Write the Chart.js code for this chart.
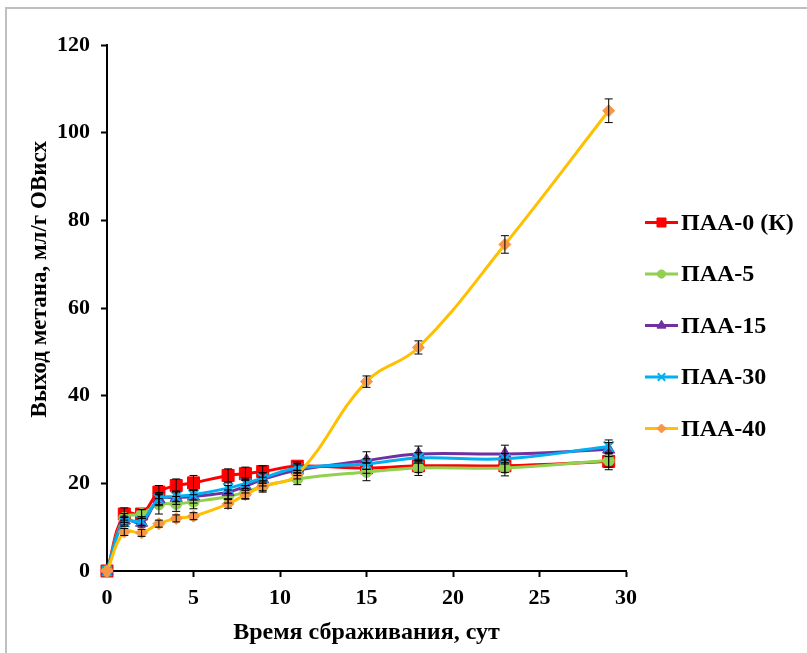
<!DOCTYPE html>
<html>
<head>
<meta charset="utf-8">
<script src="https://cdn.jsdelivr.net/npm/chart.js@4.4.0/dist/chart.umd.min.js"></script>
<style>
  html, body { margin: 0; padding: 0; background: #ffffff; }
  #wrap { width: 807px; height: 653px; position: relative; }
</style>
</head>
<body>
<div id="wrap"><canvas id="c" width="807" height="653"></canvas></div>
<script>
// ---- data ----
const days = [0, 1, 2, 3, 4, 5, 7, 8, 9, 11, 15, 18, 23, 29];
const seriesNames = ['ПАА-0 (К)', 'ПАА-5', 'ПАА-15', 'ПАА-30', 'ПАА-40'];
const paa0  = [0, 13.0, 13.0, 18.0, 19.5, 20.1, 21.8, 22.2, 22.7, 23.9, 23.5, 24.0, 24.0, 25.0];
const paa5  = [0, 12.1, 13.0, 15.2, 15.3, 15.8, 17.0, 18.0, 19.3, 21.0, 22.6, 23.5, 23.5, 25.2];
const paa15 = [0, 11.5, 11.0, 16.4, 16.7, 17.0, 18.0, 19.3, 20.9, 23.0, 25.2, 26.7, 26.7, 27.7];
const paa30 = [0, 11.2, 11.4, 16.4, 17.0, 17.4, 18.9, 20.0, 21.2, 23.5, 24.4, 25.8, 25.6, 28.4];
const paa40 = [0, 8.9, 8.7, 10.8, 12.0, 12.5, 15.3, 17.4, 19.3, 22.0, 43.2, 51.0, 74.5, 105.0];
const err0  = [0, 1.4, 1.0, 1.5, 1.5, 1.7, 1.5, 1.5, 1.3, 1.0, 1.2, 1.5, 1.5, 1.9];
const err5  = [0, 1.0, 1.0, 2.2, 1.7, 1.6, 1.5, 1.5, 1.3, 1.3, 2.0, 1.7, 1.8, 1.5];
const err15 = [0, 1.0, 1.0, 1.5, 1.5, 1.5, 1.5, 1.5, 1.5, 1.2, 2.0, 1.8, 2.0, 1.6];
const err30 = [0, 1.0, 1.0, 1.2, 1.2, 1.2, 1.2, 1.2, 1.2, 1.0, 1.2, 1.2, 1.2, 1.5];
const err40 = [0, 0.8, 0.8, 0.8, 0.8, 0.8, 1.0, 1.0, 1.0, 1.0, 1.3, 1.5, 2.0, 2.7];
const xTicks = [0, 5, 10, 15, 20, 25, 30];
const yTicks = [0, 20, 40, 60, 80, 100, 120];
const xTitle = 'Время сбраживания, сут';
const yTitle = 'Выход метана, мл/г ОВисх';

const values = [paa0, paa5, paa15, paa30, paa40];
const errors = [err0, err5, err15, err30, err40];
const lineColors  = ['#FF0000', '#92D050', '#7030A0', '#00B0F0', '#FFC000'];
const pointColors = ['#FF0000', '#92D050', '#7030A0', '#00B0F0', '#F79646'];
const pointStyles = ['rect', 'circle', 'triangle', 'crossRot', 'rectRot'];
const pointRadii  = [8.5, 5.5, 7, 7, 6];

const SERIF = '"Liberation Serif", "Times New Roman", serif';

const datasets = seriesNames.map((name, i) => ({
  label: name,
  data: days.map((d, k) => ({ x: d, y: values[i][k] })),
  errs: errors[i],
  borderColor: lineColors[i],
  backgroundColor: pointColors[i],
  pointBackgroundColor: pointColors[i],
  pointBorderColor: pointColors[i],
  pointBorderWidth: pointStyles[i] === 'crossRot' ? 2 : 1,
  pointStyle: pointStyles[i],
  pointRadius: pointRadii[i],
  borderWidth: 3,
  tension: 0.4,
  fill: false,
  clip: false,
  order: seriesNames.length - i
}));

const bgPlugin = {
  id: 'bg',
  beforeDraw(chart) {
    const ctx = chart.ctx;
    ctx.save();
    ctx.fillStyle = '#ffffff';
    ctx.fillRect(0, 0, chart.width, chart.height);
    ctx.strokeStyle = '#BFBFBF';
    ctx.lineWidth = 2;
    ctx.strokeRect(6, 8, chart.width + 20, chart.height + 20);
    ctx.restore();
  }
};

const errPlugin = {
  id: 'errbars',
  afterDatasetsDraw(chart) {
    const ctx = chart.ctx;
    const xs = chart.scales.x, ys = chart.scales.y;
    ctx.save();
    ctx.strokeStyle = '#000000';
    ctx.lineWidth = 1;
    chart.data.datasets.forEach((ds) => {
      ds.data.forEach((p, k) => {
        const e = ds.errs[k];
        if (!e) return;
        const px = xs.getPixelForValue(p.x);
        const y1 = ys.getPixelForValue(p.y + e);
        const y2 = ys.getPixelForValue(p.y - e);
        ctx.beginPath();
        ctx.moveTo(px, y1); ctx.lineTo(px, y2);
        ctx.moveTo(px - 4, y1); ctx.lineTo(px + 4, y1);
        ctx.moveTo(px - 4, y2); ctx.lineTo(px + 4, y2);
        ctx.stroke();
      });
    });
    ctx.restore();
  }
};

const legendPlugin = {
  id: 'sideLegend',
  afterDraw(chart) {
    const ctx = chart.ctx;
    ctx.save();
    chart.data.datasets.forEach((ds, i) => {
      const y = 222.5 + i * 51.5;
      ctx.strokeStyle = ds.borderColor;
      ctx.lineWidth = 3;
      ctx.beginPath();
      ctx.moveTo(645, y); ctx.lineTo(678, y);
      ctx.stroke();
      ctx.fillStyle = ds.pointBackgroundColor;
      ctx.strokeStyle = ds.pointBorderColor;
      ctx.lineWidth = ds.pointBorderWidth;
      Chart.helpers.drawPoint(ctx, {
        pointStyle: ds.pointStyle,
        radius: ds.pointRadius * 0.75,
        borderWidth: ds.pointBorderWidth
      }, 661.5, y);
      ctx.fillStyle = '#000000';
      ctx.font = 'bold 24px ' + SERIF;
      ctx.textBaseline = 'middle';
      ctx.textAlign = 'left';
      ctx.fillText(ds.label, 681, y + 1);
    });
    ctx.restore();
  }
};

new Chart(document.getElementById('c'), {
  type: 'line',
  data: { datasets },
  plugins: [bgPlugin, errPlugin, legendPlugin],
  options: {
    responsive: false,
    animation: false,
    events: [],
    layout: { padding: { top: 45, right: 181, left: 0, bottom: 0 } },
    plugins: { legend: { display: false }, tooltip: { enabled: false } },
    scales: {
      x: {
        type: 'linear',
        min: 0, max: 30,
        afterFit(s) { s.height = 82; },
        afterBuildTicks(s) { s.ticks = xTicks.map(v => ({ value: v })); },
        border: { display: true, color: '#000000', width: 2 },
        grid: { display: true, drawOnChartArea: false, drawTicks: true, tickLength: 6, tickColor: '#000000', tickWidth: 2, color: '#000000' },
        ticks: { color: '#000000', padding: 8, maxRotation: 0, font: { family: SERIF, size: 22, weight: 'bold' } },
        title: { display: true, text: xTitle, color: '#000000', padding: { top: 0, bottom: 5.5 }, font: { family: SERIF, size: 24, weight: 'bold' } }
      },
      y: {
        type: 'linear',
        min: 0, max: 120,
        afterFit(s) { s.width = 107; },
        afterBuildTicks(s) { s.ticks = yTicks.map(v => ({ value: v })); },
        border: { display: true, color: '#000000', width: 2 },
        grid: { display: true, drawOnChartArea: false, drawTicks: true, tickLength: 6, tickColor: '#000000', tickWidth: 2, color: '#000000' },
        ticks: { color: '#000000', padding: 11, font: { family: SERIF, size: 22, weight: 'bold' } },
        title: { display: true, text: '\u00a0'.repeat(10) + yTitle, color: '#000000', padding: { top: 26, bottom: 0 }, font: { family: SERIF, size: 23, weight: 'bold' } }
      }
    }
  }
});
</script>
</body>
</html>
